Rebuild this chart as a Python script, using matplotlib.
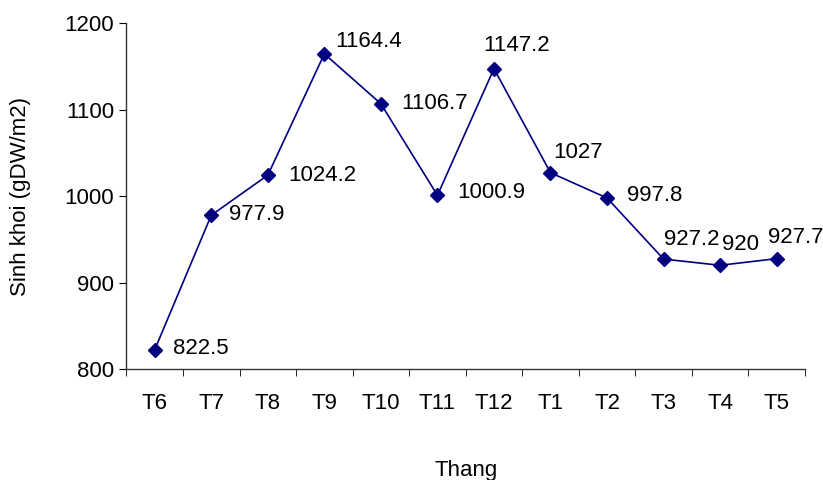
import numpy as np
import matplotlib.pyplot as plt

# Sinh khoi theo thang
thang = ['T6', 'T7', 'T8', 'T9', 'T10', 'T11', 'T12', 'T1', 'T2', 'T3', 'T4', 'T5']
sinh_khoi = [822.5, 977.9, 1024.2, 1164.4, 1106.7, 1000.9, 1147.2, 1027, 997.8, 927.2, 920, 927.7]
nhan = ['822.5', '977.9', '1024.2', '1164.4', '1106.7', '1000.9', '1147.2', '1027', '997.8', '927.2', '920', '927.7']

# vi tri nhan so lieu (pixel, so voi diem)
lech_nhan = [(18, 1), (18, 1), (20, 0), (11, 12), (20, 0), (20, 3),
             (-11, 23), (3, 20), (20, 2), (0, 20), (2, 21), (-9, 21)]

plt.rcParams['font.family'] = ['Liberation Sans', 'DejaVu Sans']
plt.rcParams['font.size'] = 16

fig = plt.figure(figsize=(8.23, 4.8), dpi=100)
ax = fig.add_axes([0.1537, 0.231, 0.978 - 0.1537, 0.952 - 0.231])

x = np.arange(len(thang))
ax.plot(x, sinh_khoi, color='#000080', linewidth=1.2, marker='D', markersize=7.5)

for i in range(len(x)):
    ax.annotate(nhan[i], (x[i], sinh_khoi[i]), xytext=lech_nhan[i],
                textcoords='offset pixels', ha='left', va='center', fontsize=16)

ax.set_xlim(-0.5, len(thang) - 0.5)
ax.set_ylim(800, 1200)
ax.set_yticks([800, 900, 1000, 1100, 1200])
ax.set_xticks(x)
ax.set_xticklabels(thang)
ax.set_xticks(np.arange(-0.5, len(thang), 1), minor=True)
ax.tick_params(axis='x', which='major', length=0, pad=17)
ax.tick_params(axis='x', which='minor', length=5, direction='out')
ax.tick_params(axis='y', length=5, direction='out', pad=4)

ax.spines['top'].set_visible(False)
ax.spines['right'].set_visible(False)
for s in ['left', 'bottom']:
    ax.spines[s].set_linewidth(1)
    ax.spines[s].set_color('#333333')

ax.set_xlabel('Thang', labelpad=33)
ax.set_ylabel('Sinh khoi (gDW/m2)', labelpad=24)

fig.savefig('out.png', dpi=100)
